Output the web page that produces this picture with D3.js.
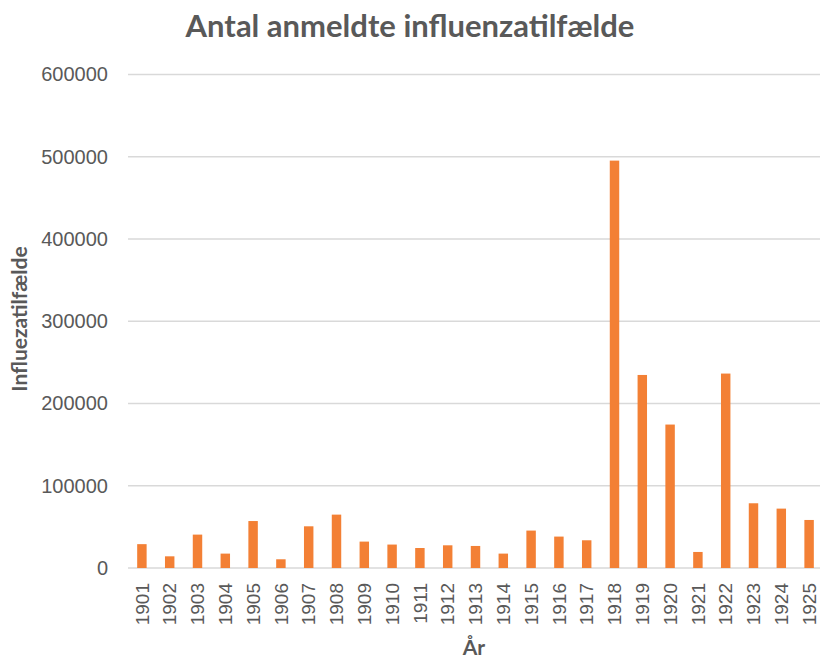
<!DOCTYPE html>
<html>
<head>
<meta charset="utf-8">
<script src="https://cdn.jsdelivr.net/npm/d3@7"></script>
<style>
  body { margin: 0; background: #fff; }
  svg { display: block; }
</style>
</head>
<body>
<script>
var years = ["1901","1902","1903","1904","1905","1906","1907","1908","1909","1910",
  "1911","1912","1913","1914","1915","1916","1917","1918","1919","1920",
  "1921","1922","1923","1924","1925"];
var cases = [29000, 14200, 40600, 17500, 57100, 10600, 50700, 64900, 32100, 28500,
  24300, 27600, 26800, 17500, 45500, 38200, 33700, 495300, 234700, 174400,
  19500, 236400, 78700, 72200, 58400];
var yTicks = [0, 100000, 200000, 300000, 400000, 500000, 600000];

var width = 820,
  height = 658;

var margin = {top: 74.5, right: -3, bottom: 90, left: 128};

var svg = d3.select('body').append('svg')
  .attr('width', width)
  .attr('height', height);

var x = d3.scaleBand()
  .domain(years)
  .range([margin.left, width - margin.right])
  .paddingInner(0.66)
  .paddingOuter(0.33);

var y = d3.scaleLinear()
  .domain([0, 600000])
  .range([height - margin.bottom, margin.top]);

// gridlines
svg.append("g")
  .attr("class", "grid")
  .selectAll("line")
  .data(yTicks)
  .enter().append("line")
    .attr("x1", margin.left)
    .attr("x2", width)
    .attr("y1", function(d) { return y(d); })
    .attr("y2", function(d) { return y(d); })
    .attr("stroke", "#d9d9d9")
    .attr("stroke-width", 1.6);

// y axis labels
var yAxis = d3.axisLeft(y).tickValues(yTicks).tickSize(0).tickPadding(20)
  .tickFormat(d3.format("d"));
var gy = svg.append("g")
  .attr("transform", "translate(" + margin.left + ",0)")
  .call(yAxis);
gy.select(".domain").remove();
gy.selectAll("text")
  .attr("fill", "#595959")
  .style("font-family", "'Liberation Sans', Arial, sans-serif")
  .style("font-size", "20px");

// bars
svg.append("g")
  .attr("class", "bars")
  .selectAll("rect")
  .data(cases)
  .enter().append("rect")
    .attr("x", function(d, i) { return x(years[i]); })
    .attr("width", x.bandwidth())
    .attr("y", function(d) { return y(d); })
    .attr("height", function(d) { return y(0) - y(d); })
    .attr("fill", "#f38035");

// x axis labels
var xAxis = d3.axisBottom(x).tickSize(0).tickPadding(0);
var gx = svg.append("g")
  .attr("transform", "translate(0," + y(0) + ")")
  .call(xAxis);
gx.select(".domain").remove();
gx.selectAll("text")
  .attr("fill", "#595959")
  .style("font-family", "'Liberation Sans', Arial, sans-serif")
  .style("font-size", "19px")
  .attr("transform", "rotate(-90)")
  .attr("text-anchor", "end")
  .attr("dy", "0.35em")
  .attr("x", -15)
  .attr("y", 0);

// title
svg.append("text")
  .attr("x", 410)
  .attr("y", 37)
  .attr("text-anchor", "middle")
  .attr("fill", "#595959")
  .style("font-family", "Lato, 'Open Sans', sans-serif")
  .style("font-weight", "bold")
  .style("font-size", "31px")
  .text("Antal anmeldte influenzatilfælde");

// axis titles
svg.append("text")
  .attr("x", (margin.left + width) / 2)
  .attr("y", 655)
  .attr("text-anchor", "middle")
  .attr("fill", "#595959")
  .style("font-family", "Lato, 'Open Sans', sans-serif")
  .style("font-weight", "bold")
  .style("font-size", "21px")
  .text("År");

svg.append("text")
  .attr("transform", "translate(27,319) rotate(-90)")
  .attr("text-anchor", "middle")
  .attr("fill", "#595959")
  .style("font-family", "Lato, 'Open Sans', sans-serif")
  .style("font-weight", "bold")
  .style("font-size", "21px")
  .text("Influezatilfælde");
</script>
</body>
</html>
